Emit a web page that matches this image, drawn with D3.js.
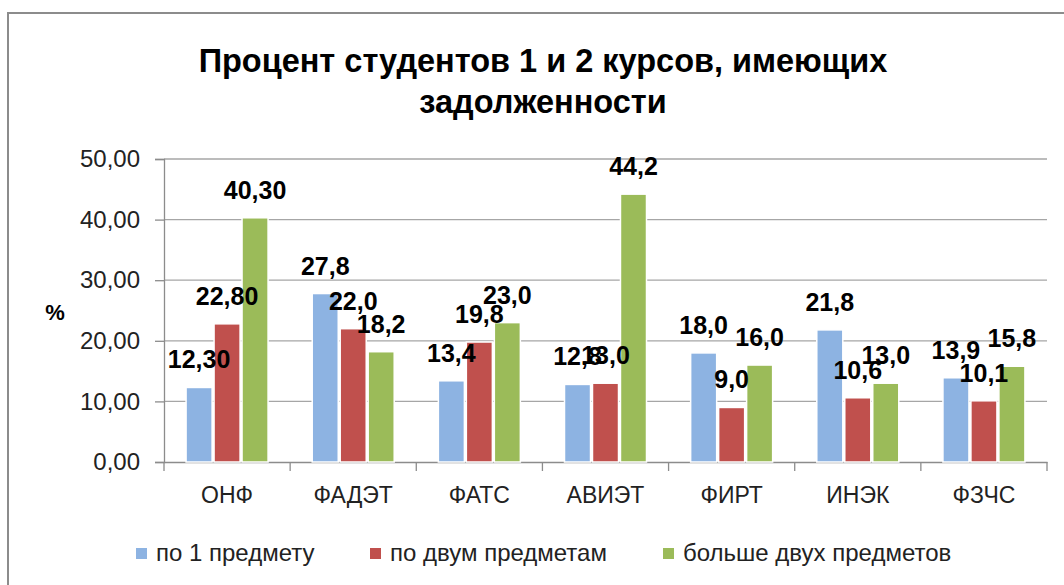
<!DOCTYPE html>
<html><head><meta charset="utf-8">
<script src="https://cdn.jsdelivr.net/npm/d3@7"></script>
<style>
body{margin:0;background:#fff;}
text{font-family:"Liberation Sans",Arial,sans-serif;}
</style></head>
<body><svg id="c" width="1064" height="585"></svg>
<script>
const categories = ["ОНФ","ФАДЭТ","ФАТС","АВИЭТ","ФИРТ","ИНЭК","ФЗЧС"];
const seriesNames = ["по 1 предмету","по двум предметам","больше двух предметов"];
const seriesColors = ["#8db3e2","#c0504d","#9bbb59"];
const s1 = [12.3, 27.8, 13.4, 12.8, 18.0, 21.8, 13.9];
const s2 = [22.8, 22.0, 19.8, 13.0, 9.0, 10.6, 10.1];
const s3 = [40.3, 18.2, 23.0, 44.2, 16.0, 13.0, 15.8];
const labelDecimals = [2, 1, 1, 1, 1, 1, 1];
const yTicks = [0, 10, 20, 30, 40, 50];
const titleLines = ["Процент студентов 1 и 2 курсов, имеющих", "задолженности"];
const yAxisTitle = "%";

(function(){
const svg = d3.select("#c");
const values = [s1, s2, s3];

// frame
svg.append("rect").attr("x", 8).attr("y", 13).attr("width", 1070).attr("height", 590)
  .attr("fill", "#fff").attr("stroke", "#8c8c8c").attr("stroke-width", 2);

const pLeft = 164, pRight = 1047, pTop = 159, pBottom = 462;
const x0 = d3.scaleBand().domain(categories).range([pLeft, pRight]);
const bw = x0.bandwidth();
const x1 = d3.scaleBand().domain([0,1,2]).range([0.175*bw, 0.825*bw]).paddingInner(0.07);
const y = d3.scaleLinear().domain([0, 50]).range([pBottom, pTop]);
const fmt = v => v.toFixed(2).replace(".", ",");

// gridlines
svg.append("g").selectAll("line").data(yTicks.filter(t => t > 0)).join("line")
  .attr("x1", pLeft).attr("x2", pRight).attr("y1", d => y(d)).attr("y2", d => y(d))
  .attr("stroke", "#a6a6a6").attr("stroke-width", 1.3);

// y axis
const yAxis = svg.append("g").attr("transform", `translate(${pLeft},0)`)
  .call(d3.axisLeft(y).tickValues(yTicks).tickSize(9).tickPadding(15).tickFormat(fmt));
yAxis.select(".domain").attr("stroke", "#8c8c8c").attr("stroke-width", 1.3);
yAxis.selectAll(".tick line").attr("stroke", "#8c8c8c").attr("stroke-width", 1.3);
yAxis.selectAll("text").attr("font-size", 24).attr("fill", "#222")
  .style("font-family", "'Liberation Sans',Arial,sans-serif");

// x axis
const xAxis = svg.append("g").attr("transform", `translate(0,${pBottom})`)
  .call(d3.axisBottom(x0).tickSize(0).tickPadding(25));
xAxis.select(".domain").attr("stroke", "#8c8c8c").attr("stroke-width", 1.3);
xAxis.selectAll("text").attr("font-size", 23).attr("fill", "#222")
  .style("font-family", "'Liberation Sans',Arial,sans-serif");
// category boundary ticks
const bounds = categories.map(c => x0(c)).concat([pRight]);
svg.append("g").selectAll("line").data(bounds).join("line")
  .attr("x1", d => d).attr("x2", d => d).attr("y1", pBottom).attr("y2", pBottom + 9)
  .attr("stroke", "#8c8c8c").attr("stroke-width", 1.3);

// bars
const g = svg.append("g");
values.forEach((arr, si) => {
  g.append("g").selectAll("rect").data(arr).join("rect")
    .attr("x", (d, i) => x0(categories[i]) + x1(si))
    .attr("y", d => y(d))
    .attr("width", x1.bandwidth())
    .attr("height", d => pBottom - y(d))
    .attr("fill", seriesColors[si])
    .attr("stroke", "#fff").attr("stroke-width", 1.5);
});
// labels
values.forEach((arr, si) => {
  svg.append("g").selectAll("text").data(arr).join("text")
    .attr("x", (d, i) => x0(categories[i]) + x1(si) + x1.bandwidth()/2)
    .attr("y", d => y(d) - 19)
    .attr("text-anchor", "middle")
    .attr("font-size", 25).attr("font-weight", "bold").attr("fill", "#000")
    .text((d, i) => d.toFixed(labelDecimals[i]).replace(".", ","));
});

// y title
svg.append("text").attr("x", 55).attr("y", 320).attr("text-anchor", "middle")
  .attr("font-size", 22).attr("font-weight", "bold").text(yAxisTitle);

// title
svg.append("g").selectAll("text").data(titleLines).join("text")
  .attr("x", 543).attr("y", (d, i) => 72 + i * 41).attr("text-anchor", "middle")
  .attr("font-size", 32.5).attr("font-weight", "bold").attr("fill", "#000").text(d => d);

// legend
const legX = [136, 370, 663];
const leg = svg.append("g").selectAll("g").data(seriesNames).join("g")
  .attr("transform", (d, i) => `translate(${legX[i]},548)`);
leg.append("rect").attr("width", 11).attr("height", 11).attr("fill", (d, i) => seriesColors[i]);
leg.append("text").attr("x", 20).attr("y", 13).attr("font-size", 24).attr("fill", "#222").text(d => d);
})();
</script></body></html>
